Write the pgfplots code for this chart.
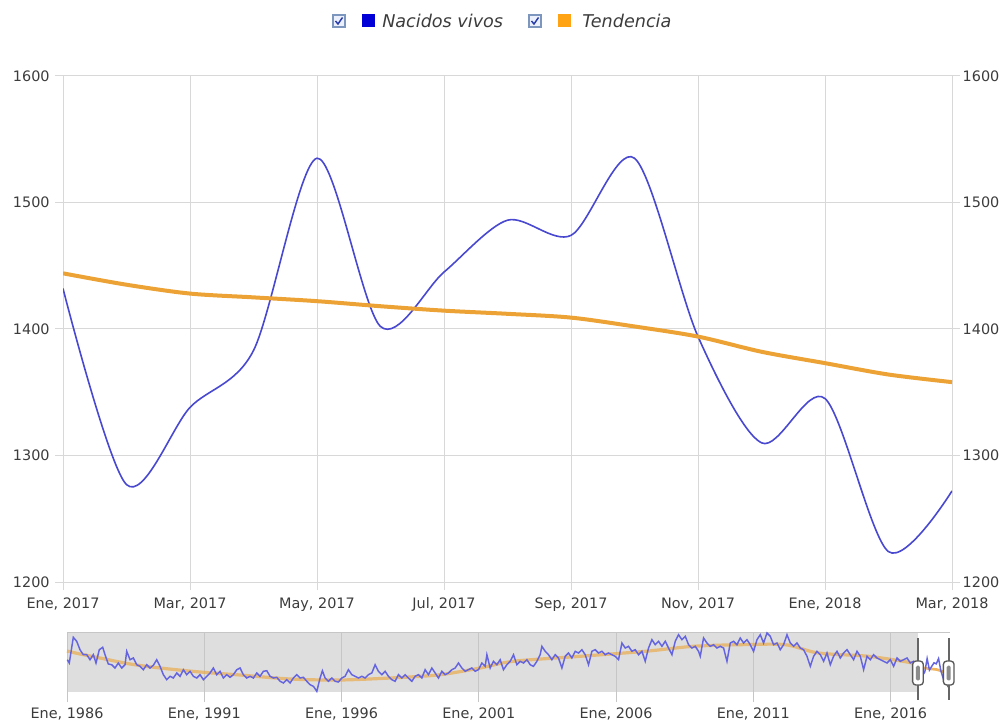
\documentclass[border=0pt]{standalone}
\usepackage{fontspec}
\setmainfont{DejaVu Sans}
\usepackage{pgfplots}
\pgfplotsset{compat=1.18}
\usepackage{pgfplotstable}

\definecolor{nacblue}{RGB}{72,72,208}
\definecolor{navblue}{RGB}{100,100,225}
\definecolor{legblue}{RGB}{0,0,215}
\definecolor{tendor}{RGB}{236,162,52}
\definecolor{legor}{RGB}{255,163,20}
\definecolor{gridc}{RGB}{216,216,216}
\definecolor{navfill}{RGB}{222,222,222}
\definecolor{navgrid}{RGB}{198,198,198}
\definecolor{txt}{RGB}{60,60,60}
\definecolor{chkb}{RGB}{125,150,190}
\definecolor{chkf}{RGB}{236,240,252}
\definecolor{chkm}{RGB}{40,60,170}

\newcommand{\pp}[2]{({#1*0.75pt},{(725-#2)*0.75pt})}

\pgfplotstableread{
m v
0 1432
1 1277
2 1338
3 1383
4 1535
5 1402
6 1445
7 1486
8 1474
9 1535
10 1394
11 1310
12 1345
13 1224
14 1272
}\nacidos

\pgfplotstableread{
m v
0 1444
1 1435
2 1428
3 1425
4 1422
5 1418
6 1414.5
7 1412
8 1409
9 1402
10 1394
11 1382
12 1373
13 1364
14 1358
}\tendencia

% navigator series, read in picture units (px, py)
\pgfplotstableread{
px py
67.3 659.7
69.3 663
73.3 637.3
76.7 641.3
80 649.7
83.3 654.7
86.7 654.7
90 659.7
93.3 654.7
96 663
99.3 649.7
102.7 647.3
105 654.7
108.3 664
111.7 664.7
115 668
118.3 663
121.7 668
125 664.7
126.7 651.3
130 659.7
133.3 658
136.7 664.7
140 666.3
143.3 669.7
146.7 664.7
150 668
153.3 665.3
156.7 659.7
160 666.3
163.3 674.7
166.7 679.7
170 676.3
173.3 678
176.7 673
180 676.3
183.3 669.7
186.7 674.7
190 671.3
193.3 676.3
196.7 678
200 674.7
203.3 679.7
206.7 676.3
210 673
213.3 668
216.7 674.7
220 671.3
223.3 678
226.7 674.7
230 677.3
233.3 674.7
236.7 669.7
240 668
243.3 674.7
246.7 678
250 676.3
253.3 678
256.7 673
260 676.3
263.3 671.3
266.7 670.7
270 676.3
273.3 678
276.7 677.3
280 681.3
283.3 683
286.7 679.7
290 683
293.3 678
296.7 674.7
300 678
303.3 677.3
306.7 681.3
310 684.7
313.3 686.3
316.7 691.3
320 678
322.3 670.7
325 678
328.3 681.3
331.7 678
335 681.3
338.3 682
341.7 678
345 676.3
348.3 669.7
351.7 674.7
355 676.3
358.3 678
361.7 676.3
365 678
368.3 674.7
371.7 673
375 664.7
378.3 671.3
381.7 674.7
385 671.3
388.3 676.3
391.7 679.7
395 681.3
398.3 674.7
401.7 678
405 674.7
408.3 678
411.7 681.3
415 676.3
418.3 674.7
421.7 678
425 669.7
428.3 674.7
431.7 668
435 673
438.3 678
441.7 671.3
445 674.7
448.3 673
451.7 669.7
455 668
458.3 663
461.7 668
465 671.3
468.3 669.7
471.7 668
475 671.3
478.3 669.7
481.7 663
485 666.3
486.7 654.7
490 668
493.3 661.3
496.7 664.7
500 659.7
503.3 669.7
506.7 664.7
510 661.3
513.3 654.7
516.7 664.7
520 661.3
523.3 663
526.7 659.7
530 664.7
533.3 666.3
536.7 661.3
540 654.7
541.7 646.3
545 651.3
548.3 654.7
551.7 659.7
555 654.7
558.3 658
561.7 668
565 656.3
568.3 653
571.7 658
575 651.3
578.3 653
581.7 649.7
585 654.7
588.3 664.7
591.7 651.3
595 649.7
598.3 653
601.7 651.3
605 654.7
608.3 653
611.7 654.7
615 656.3
618.3 659.7
621.7 643
625 648
628.3 646.3
631.7 651.3
635 649.7
638.3 654.7
641.7 651.3
645 661.3
648.3 648
651.7 639.7
655 644.7
658.3 641.3
661.7 646.3
665 641.3
668.3 648
671.7 654.7
675 641.3
678.3 634.7
681.7 639.7
685 636.3
688.3 644.7
691.7 648
695 646.3
698.3 651.3
700 656.3
703.3 638
706.7 643
710 646.3
713.3 644.7
716.7 648
720 646.3
723.3 648
726.7 661.3
730 643
733.3 641.3
736.7 644.7
740 638
743.3 643
746.7 639.7
750 644.7
753.3 651.3
756.7 639.7
760 634.7
763.3 643
766.7 633
770 636.3
773.3 644.7
776.7 643
780 649.7
783.3 644.7
786.7 634.7
790 643
793.3 646.3
796.7 643
800 648
803.3 649.7
806.7 656.3
810 666.3
813.3 656.3
816.7 651.3
820 654.7
823.3 661.3
826.7 653
830 664.7
833.3 656.3
836.7 651.3
840 658
843.3 653
846.7 649.7
850 654.7
853.3 659.7
856.7 651.3
860 656.3
863.3 669.7
866.7 656.3
870 659.7
873.3 654.7
876.7 658
880 659.7
883.3 661.3
886.7 663
890 659.7
893.3 666.3
896.7 658
900 661.3
903.3 659.7
906.7 658
910 663
913.3 661.3
917.6 667.5
}\navblue

\pgfplotstableread{
px py
67 651
80 654
100 658
130 664
160 668
200 672
240 675
290 679
340 680
400 677.5
440 674.7
480 668
513 661.3
580 656.3
645 651.3
693 646.3
740 644.7
785 644.7
818 653
868 656.3
912 663
917.6 666.4
}\navtrend

\begin{document}
\begin{tikzpicture}
\useasboundingbox (0,0) rectangle (754.5pt,543.75pt);

% ---------------- main chart ----------------
\begin{axis}[
  at={(47.25pt,107.25pt)}, anchor=south west,
  scale only axis, width=666.75pt, height=379.5pt,
  xmin=0, xmax=14, ymin=1200, ymax=1600,
  xtick={0,2,...,14},
  xticklabels={{Ene, 2017},{Mar, 2017},{May, 2017},{Jul, 2017},{Sep, 2017},{Nov, 2017},{Ene, 2018},{Mar, 2018}},
  ytick={1200,1300,1400,1500,1600},
  xtick pos=left, ytick pos=left,
  tick align=outside, major tick length=6pt,
  tick style={gridc, line width=0.75pt},
  grid=major, grid style={gridc, line width=0.75pt},
  axis line style={gridc, line width=0.75pt},
  tick label style={font=\fontsize{10.8}{13}\selectfont, text=txt},
  /pgf/number format/assume math mode=true,
  /pgf/number format/1000 sep={},
  yticklabel style={xshift=-0.5pt},
  xticklabel style={yshift=-2pt},
]
\addplot[nacblue, line width=1.2pt, smooth] table[x=m, y=v]{\nacidos};
\addplot[tendor, line width=3pt, smooth] table[x=m, y=v]{\tendencia};
\end{axis}

% right-hand y labels
\begin{axis}[
  at={(47.25pt,107.25pt)}, anchor=south west,
  scale only axis, width=666.75pt, height=379.5pt,
  xmin=0, xmax=14, ymin=1200, ymax=1600,
  xtick=\empty,
  axis line style={draw=none},
  ytick={1200,1300,1400,1500,1600},
  ytick pos=right, yticklabel pos=right,
  tick align=outside, major tick length=6pt,
  tick style={gridc, line width=0.75pt},
  tick label style={font=\fontsize{10.8}{13}\selectfont, text=txt},
  /pgf/number format/assume math mode=true,
  /pgf/number format/1000 sep={},
  yticklabel style={xshift=-1.5pt},
]
\addplot[draw=none] coordinates {(0,1400) (14,1400)};
\end{axis}

% ---------------- navigator ----------------
\begin{axis}[
  at={(50.25pt,24.75pt)}, anchor=south west,
  scale only axis, width=662.25pt, height=45pt,
  xmin=1986, xmax=2018.1667, ymin=1150, ymax=1840,
  clip=false,
  xtick={1986,1991,1996,2001,2006,2011,2016},
  xticklabels={{Ene, 1986},{Ene, 1991},{Ene, 1996},{Ene, 2001},{Ene, 2006},{Ene, 2011},{Ene, 2016}},
  ytick={1150},
  yticklabels={},
  ytick style={draw=none},
  xtick pos=left, tick align=outside, major tick length=7.5pt,
  xtick style={navgrid, line width=0.75pt},
  axis line style={draw=none},
  tick label style={font=\fontsize{10.8}{13}\selectfont, text=txt},
  xticklabel style={yshift=-1pt},
]
\addplot[draw=none, fill=navfill] coordinates {(1986,1150) (1986,1840) (2017,1840) (2017,1150)} -- cycle;
\draw[navgrid, line width=0.75pt] (axis cs:1986,1840) -- (axis cs:2018.1667,1840);
\draw[navgrid, line width=0.75pt] (axis cs:1986,1150) -- (axis cs:1986,1840);
\draw[navgrid, line width=0.75pt] (axis cs:1991,1150) -- (axis cs:1991,1840);
\draw[navgrid, line width=0.75pt] (axis cs:1996,1150) -- (axis cs:1996,1840);
\draw[navgrid, line width=0.75pt] (axis cs:2001,1150) -- (axis cs:2001,1840);
\draw[navgrid, line width=0.75pt] (axis cs:2006,1150) -- (axis cs:2006,1840);
\draw[navgrid, line width=0.75pt] (axis cs:2011,1150) -- (axis cs:2011,1840);
\draw[navgrid, line width=0.75pt] (axis cs:2016,1150) -- (axis cs:2016,1840);
\addplot[tendor, opacity=0.6, line width=2.4pt, smooth]
  table[x expr=1986+(\thisrow{px}-67)/27.44, y expr=1150+(692-\thisrow{py})*11.5]{\navtrend};
\addplot[tendor, opacity=0.8, line width=2pt, smooth]
  table[x expr=2017+\thisrow{m}/12, y=v]{\tendencia};
\addplot[navblue, line width=1.1pt]
  table[x expr=1986+(\thisrow{px}-67)/27.44, y expr=1150+(692-\thisrow{py})*11.5]{\navblue};
\addplot[navblue, line width=1.1pt]
  table[x expr=2017+\thisrow{m}/12, y=v]{\nacidos};
% handles
\draw[black!60, line width=1.2pt] (axis cs:2017,1771) -- (axis cs:2017,1058);
\draw[black!60, line width=1.2pt] (axis cs:2018.12,1771) -- (axis cs:2018.12,1058);
\node[draw=black!65, fill=white, rounded corners=2.5pt, line width=1pt, minimum width=8pt, minimum height=18pt, inner sep=0pt] at (axis cs:2017,1368) {};
\node[fill=black!45, rounded corners=1pt, minimum width=3pt, minimum height=11pt, inner sep=0pt] at (axis cs:2017,1368) {};
\node[draw=black!65, fill=white, rounded corners=2.5pt, line width=1pt, minimum width=8pt, minimum height=18pt, inner sep=0pt] at (axis cs:2018.12,1368) {};
\node[fill=black!45, rounded corners=1pt, minimum width=3pt, minimum height=11pt, inner sep=0pt] at (axis cs:2018.12,1368) {};
\end{axis}

% ---------------- legend ----------------
\draw[chkb, fill=chkf, line width=0.8pt] \pp{333}{15} rectangle \pp{345}{27};
\draw[chkm, line width=1.1pt] \pp{335.5}{21} -- \pp{338}{24} -- \pp{342.5}{17.5};
\fill[legblue] \pp{362}{14.5} rectangle \pp{375}{27.5};
\node[anchor=base west, inner sep=0pt, font=\fontsize{13.2}{15}\selectfont\itshape, text=txt] at \pp{382}{28} {Nacidos vivos};
\draw[chkb, fill=chkf, line width=0.8pt] \pp{529}{15} rectangle \pp{541}{27};
\draw[chkm, line width=1.1pt] \pp{531.5}{21} -- \pp{534}{24} -- \pp{538.5}{17.5};
\fill[legor] \pp{558}{14.5} rectangle \pp{571}{27.5};
\node[anchor=base west, inner sep=0pt, font=\fontsize{13.2}{15}\selectfont\itshape, text=txt] at \pp{582}{28} {Tendencia};
\end{tikzpicture}
\end{document}
